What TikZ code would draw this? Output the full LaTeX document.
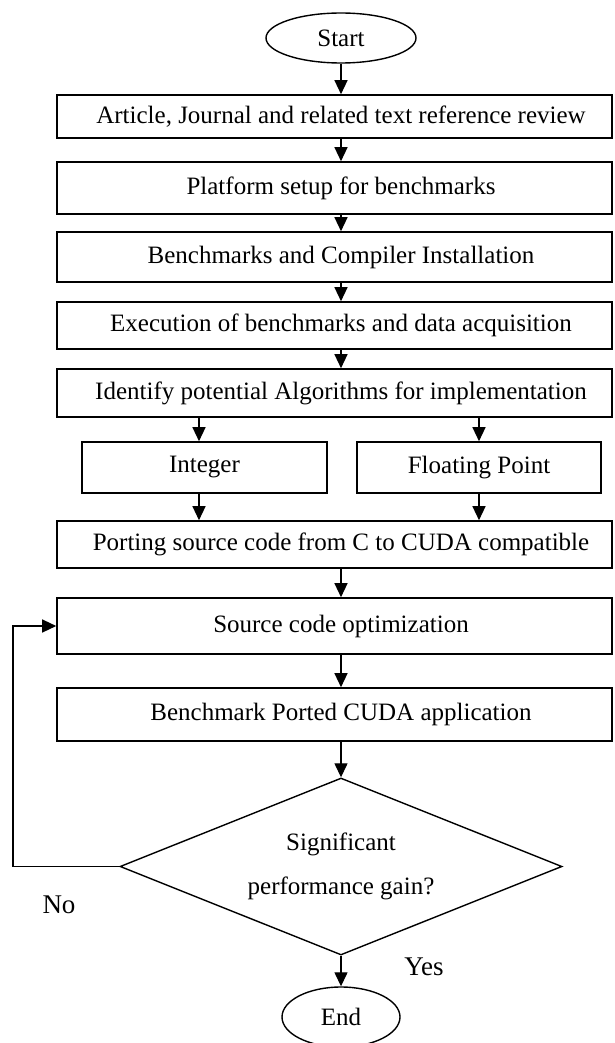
\documentclass[tikz,border=0pt]{standalone}
\usepackage{fontspec}
\setmainfont{Liberation Serif}
\usetikzlibrary{shapes.geometric,arrows.meta}
\begin{document}
\begin{tikzpicture}[x=1pt,y=-1pt,
  txt/.style={font=\fontsize{25}{30}\selectfont},
  stepbox/.style={txt,draw,line width=1.6pt,minimum width=555pt,inner sep=0pt},
  subbox/.style={txt,draw,line width=1.6pt,inner sep=0pt,minimum height=51pt},
  term/.style={txt,draw,ellipse,line width=1.4pt,inner sep=0pt},
  decision/.style={draw,diamond,line width=1.4pt,inner sep=0pt,
    minimum width=442pt,minimum height=177pt,aspect=2.5},
  dectext/.style={align=center,inner sep=0pt,font=\fontsize{25}{44}\selectfont},
  lbl/.style={font=\fontsize{27}{32}\selectfont,anchor=base,inner sep=0pt},
  arr/.style={line width=1.3pt,-{Triangle[length=14pt,width=13pt]}}]
\useasboundingbox (0,0) rectangle (614,1043);

% terminals
\node[term,minimum width=150pt,minimum height=50pt] (start) at (341,38) {Start};
\node[term,minimum width=118pt,minimum height=60pt] (end) at (341,1017) {End};

% main process steps
\node[stepbox,minimum height=43pt] (b1) at (334.5,116.5) {\hspace*{13pt}Article, Journal and related text reference review};
\node[stepbox,minimum height=52pt] (b2) at (334.5,188) {\hspace*{13pt}Platform setup for benchmarks};
\node[stepbox,minimum height=50pt] (b3) at (334.5,257) {\hspace*{13pt}Benchmarks and Compiler Installation};
\node[stepbox,minimum height=47pt] (b4) at (334.5,325.5) {\hspace*{13pt}Execution of benchmarks and data acquisition};
\node[stepbox,minimum height=48pt] (b5) at (334.5,393) {\hspace*{13pt}Identify potential Algorithms for implementation};
\node[subbox,minimum width=245pt] (int) at (204.5,467.5) {Integer};
\node[subbox,minimum width=244pt] (flt) at (479,467.5) {Floating Point};
\node[stepbox,minimum height=47pt] (b6) at (334.5,544.5) {\hspace*{13pt}Porting source code from C to CUDA compatible};
\node[stepbox,minimum height=56pt] (b7) at (334.5,626) {\hspace*{13pt}Source code optimization};
\node[stepbox,minimum height=53pt] (b8) at (334.5,714.5) {\hspace*{13pt}Benchmark Ported CUDA application};

% decision
\node[decision] (dec) at (341,866.5) {};
\node[dectext] (dectxt) at (dec.center) {Significant\\performance gain?};

% flow
\draw[arr] (start.south) -- (start.south |- b1.north);
\draw[arr] (b1.south -| start) -- (b2.north -| start);
\draw[arr] (b2.south -| start) -- (b3.north -| start);
\draw[arr] (b3.south -| start) -- (b4.north -| start);
\draw[arr] (b4.south -| start) -- (b5.north -| start);
\draw[arr] ([xshift=-5.5pt]int.north |- b5.south) -- ([xshift=-5.5pt]int.north);
\draw[arr] (flt.north |- b5.south) -- (flt.north);
\draw[arr] ([xshift=-5.5pt]int.south) -- ([xshift=-5.5pt]int.south |- b6.north);
\draw[arr] (flt.south) -- (flt.south |- b6.north);
\draw[arr] (b6.south -| start) -- (b7.north -| start);
\draw[arr] (b7.south -| start) -- (b8.north -| start);
\draw[arr] (b8.south -| start) -- (dec.north);
\draw[arr] (dec.south) -- (end.north);

% loop back when the gain is not significant
\coordinate (loop) at (13,866.5);
\draw[arr] (dec.west) -- (loop) |- (b7.west);

% branch labels
\node[lbl] (no) at (59,913) {No};
\node[lbl] (yes) at (424,975) {Yes};
\end{tikzpicture}
\end{document}
